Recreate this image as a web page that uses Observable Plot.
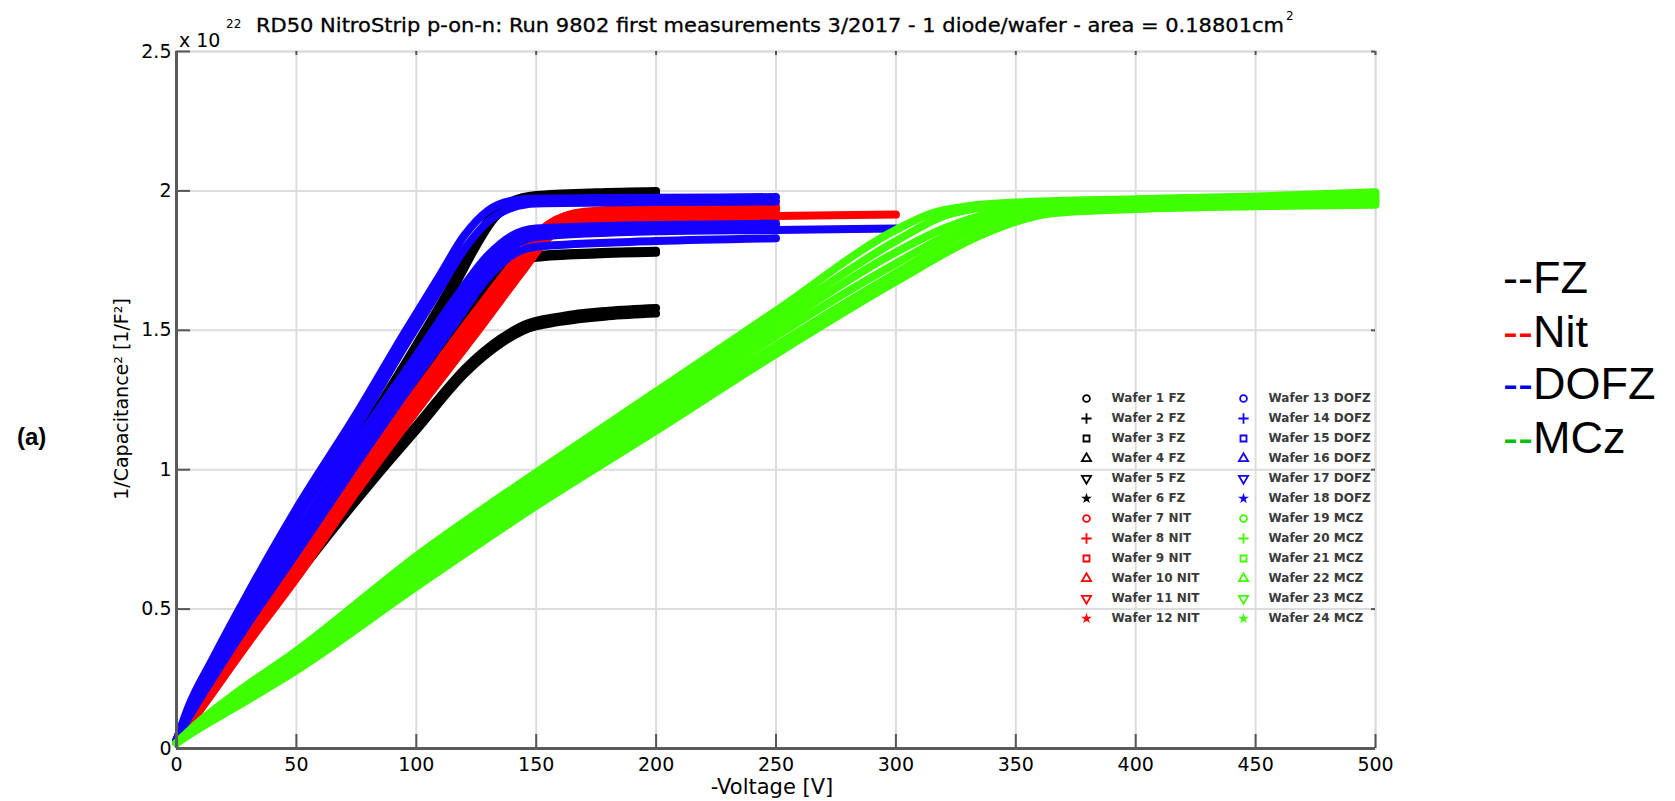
<!DOCTYPE html>
<html><head><meta charset="utf-8">
<script src="https://cdn.jsdelivr.net/npm/d3@7"></script>
<script src="https://cdn.jsdelivr.net/npm/@observablehq/plot@0.6"></script>
<style>
html,body{margin:0;padding:0;background:#fff;}
#wrap{position:relative;width:1675px;height:801px;overflow:hidden;}
#wrap > *{position:absolute;}
</style></head><body><div id="wrap"></div>
<script>
// ---------------- data (voltage [V], 1/C^2 [1e22 1/F^2]) ----------------
const groups = ["FZ", "NIT", "DOFZ", "MCZ"];
const groupColors = ["#000000", "#ff0000", "#1400ff", "#40ff00"];
const legendGroups = ["FZ", "Nit", "DOFZ", "MCz"];
const legendDashColors = ["#000000", "#ff0000", "#0000e6", "#00c000"];
const xTicks = [0, 50, 100, 150, 200, 250, 300, 350, 400, 450, 500];
const yTicks = [0, 0.5, 1, 1.5, 2, 2.5];
const yTickLabels = ["0", "0.5", "1", "1.5", "2", "2.5"];

const waferNames = ["Wafer 1 FZ","Wafer 2 FZ","Wafer 3 FZ","Wafer 4 FZ","Wafer 5 FZ","Wafer 6 FZ",
  "Wafer 7 NIT","Wafer 8 NIT","Wafer 9 NIT","Wafer 10 NIT","Wafer 11 NIT","Wafer 12 NIT",
  "Wafer 13 DOFZ","Wafer 14 DOFZ","Wafer 15 DOFZ","Wafer 16 DOFZ","Wafer 17 DOFZ","Wafer 18 DOFZ",
  "Wafer 19 MCZ","Wafer 20 MCZ","Wafer 21 MCZ","Wafer 22 MCZ","Wafer 23 MCZ","Wafer 24 MCZ"];
const waferGroups = ["FZ","FZ","FZ","FZ","FZ","FZ","NIT","NIT","NIT","NIT","NIT","NIT",
  "DOFZ","DOFZ","DOFZ","DOFZ","DOFZ","DOFZ","MCZ","MCZ","MCZ","MCZ","MCZ","MCZ"];

const wafer1 = [[0,0.02],[5,0.12],[15,0.27],[30,0.47],[50,0.74],[75,1.10],[100,1.45],[115,1.67],[125,1.83],[132,1.92],[140,1.965],[150,1.985],[175,1.995],[200,2.0]];
const wafer2 = [[0,0.02],[5,0.11],[15,0.26],[30,0.46],[50,0.72],[75,1.08],[100,1.42],[115,1.64],[125,1.80],[132,1.895],[140,1.95],[150,1.975],[175,1.985],[200,1.99]];
const wafer3 = [[0,0.02],[5,0.11],[15,0.25],[30,0.44],[50,0.68],[75,0.98],[100,1.30],[115,1.48],[125,1.60],[135,1.70],[143,1.755],[150,1.77],[175,1.78],[200,1.785]];
const wafer4 = [[0,0.02],[5,0.10],[15,0.24],[30,0.43],[50,0.67],[75,0.97],[100,1.28],[115,1.46],[125,1.58],[135,1.68],[143,1.745],[150,1.76],[175,1.772],[200,1.778]];
const wafer5 = [[0,0.02],[5,0.10],[15,0.23],[30,0.40],[46,0.59],[65,0.80],[83,0.99],[100,1.16],[121,1.37],[135,1.47],[145,1.52],[160,1.55],[180,1.57],[200,1.58]];
const wafer6 = [[0,0.02],[5,0.09],[15,0.22],[30,0.39],[46,0.57],[65,0.78],[83,0.97],[100,1.14],[121,1.35],[135,1.45],[145,1.50],[160,1.53],[180,1.55],[200,1.56]];
const wafer7 = [[0,0.02],[5,0.09],[15,0.22],[30,0.41],[50,0.65],[75,0.97],[100,1.26],[125,1.54],[145,1.76],[155,1.86],[165,1.90],[200,1.925],[250,1.935]];
const wafer8 = [[0,0.02],[5,0.09],[15,0.21],[30,0.40],[50,0.64],[75,0.95],[100,1.24],[125,1.52],[145,1.74],[155,1.84],[165,1.885],[200,1.905],[250,1.91],[300,1.915]];
const wafer9 = [[0,0.02],[5,0.08],[15,0.20],[30,0.38],[50,0.61],[75,0.92],[100,1.21],[125,1.49],[145,1.72],[155,1.83],[165,1.875],[200,1.895],[250,1.90]];
const wafer10 = [[0,0.02],[5,0.09],[15,0.22],[30,0.42],[50,0.66],[75,0.99],[100,1.28],[125,1.57],[145,1.79],[155,1.88],[170,1.925],[200,1.94],[250,1.945]];
const wafer11 = [[0,0.02],[5,0.085],[15,0.21],[30,0.39],[50,0.63],[75,0.94],[100,1.23],[125,1.51],[145,1.73],[155,1.845],[165,1.89],[200,1.915],[250,1.92]];
const wafer12 = [[0,0.02],[5,0.08],[15,0.20],[30,0.385],[50,0.62],[75,0.93],[100,1.22],[125,1.50],[145,1.75],[155,1.86],[168,1.905],[200,1.93],[250,1.935]];
const wafer13 = [[0,0.03],[5,0.15],[15,0.32],[30,0.56],[50,0.86],[75,1.20],[95,1.49],[110,1.70],[120,1.84],[130,1.93],[140,1.965],[150,1.972],[200,1.975],[250,1.978]];
const wafer14 = [[0,0.03],[5,0.14],[15,0.30],[30,0.53],[50,0.82],[75,1.15],[95,1.44],[110,1.65],[120,1.79],[130,1.89],[140,1.94],[150,1.955],[200,1.96],[250,1.962]];
const wafer15 = [[0,0.03],[5,0.13],[15,0.28],[30,0.50],[50,0.77],[75,1.10],[100,1.41],[115,1.60],[130,1.77],[140,1.84],[150,1.865],[200,1.878],[250,1.882]];
const wafer16 = [[0,0.03],[5,0.12],[15,0.26],[30,0.46],[50,0.72],[75,1.04],[100,1.35],[115,1.54],[130,1.72],[140,1.80],[150,1.835],[200,1.855],[250,1.86],[300,1.865]];
const wafer17 = [[0,0.03],[5,0.11],[15,0.25],[30,0.45],[50,0.70],[75,1.02],[100,1.33],[115,1.51],[130,1.69],[140,1.77],[150,1.80],[200,1.82],[250,1.83]];
const wafer18 = [[0,0.03],[5,0.12],[15,0.27],[30,0.48],[50,0.74],[75,1.07],[100,1.38],[115,1.57],[130,1.745],[140,1.815],[150,1.85],[200,1.865],[250,1.87]];
const wafer19 = [[0,0.02],[10,0.10],[25,0.20],[50,0.35],[100,0.69],[150,0.99],[200,1.28],[250,1.57],[300,1.86],[315,1.92],[330,1.945],[350,1.958],[400,1.97],[450,1.98],[500,1.995]];
const wafer20 = [[0,0.02],[10,0.095],[25,0.19],[50,0.34],[100,0.67],[150,0.965],[200,1.25],[250,1.54],[300,1.82],[320,1.91],[340,1.945],[360,1.955],[400,1.965],[450,1.975],[500,1.985]];
const wafer21 = [[0,0.02],[10,0.09],[25,0.18],[50,0.32],[100,0.645],[150,0.94],[200,1.22],[250,1.51],[300,1.78],[320,1.865],[335,1.91],[350,1.935],[375,1.945],[400,1.95],[450,1.96],[500,1.975]];
const wafer22 = [[0,0.02],[10,0.085],[25,0.17],[50,0.31],[100,0.625],[150,0.915],[200,1.19],[250,1.48],[300,1.74],[325,1.855],[340,1.90],[355,1.93],[380,1.94],[400,1.945],[450,1.955],[500,1.965]];
const wafer23 = [[0,0.02],[10,0.08],[25,0.16],[50,0.295],[100,0.60],[150,0.89],[200,1.165],[250,1.445],[300,1.705],[330,1.85],[345,1.90],[360,1.925],[400,1.94],[450,1.95],[500,1.96]];
const wafer24 = [[0,0.02],[10,0.075],[25,0.15],[50,0.28],[100,0.58],[150,0.87],[200,1.14],[250,1.415],[300,1.675],[335,1.84],[350,1.89],[365,1.92],[400,1.935],[450,1.945],[500,1.95]];

const waferCurves = [wafer1,wafer2,wafer3,wafer4,wafer5,wafer6,wafer7,wafer8,wafer9,wafer10,wafer11,wafer12,
  wafer13,wafer14,wafer15,wafer16,wafer17,wafer18,wafer19,wafer20,wafer21,wafer22,wafer23,wafer24];

// ---------------- build tables ----------------
const rows = [];
waferCurves.forEach((curve, i) => {
  curve.forEach(([v, c]) => rows.push({wafer: waferNames[i], group: waferGroups[i], v, c}));
});

const W = 1675, H = 801;
const mL = 176, mR = 300, mT = 51, mB = 53;
const innerW = W - mL - mR, innerH = H - mT - mB;
const font = "DejaVu Sans, sans-serif";

const main = Plot.plot({
  width: W, height: H,
  marginLeft: mL, marginRight: mR, marginTop: mT, marginBottom: mB,
  style: {fontFamily: font, fontSize: "19px", color: "#000", background: "transparent"},
  x: {domain: [0, 500], label: null},
  y: {domain: [0, 2.5], label: null},
  color: {domain: groups, range: groupColors},
  marks: [
    Plot.frame({stroke: "#dcdcdc", strokeWidth: 2}),
    Plot.ruleX(xTicks, {stroke: "#dcdcdc", strokeWidth: 2}),
    Plot.ruleY(yTicks, {stroke: "#dcdcdc", strokeWidth: 2}),
    Plot.ruleX(xTicks, {insetTop: innerH - 14, stroke: "#555", strokeWidth: 2}),
    Plot.ruleX(xTicks, {insetBottom: innerH - 4, stroke: "#555", strokeWidth: 2}),
    Plot.ruleY(yTicks, {insetRight: innerW - 14, stroke: "#555", strokeWidth: 2}),
    Plot.ruleY(yTicks, {insetLeft: innerW - 4, stroke: "#555", strokeWidth: 2}),
    Plot.line(rows, {x: "v", y: "c", z: "wafer", stroke: "group", strokeWidth: 8, curve: "monotone-x"}),
    Plot.ruleX([0], {stroke: "#5a5a5a", strokeWidth: 3}),
    Plot.ruleY([0], {stroke: "#5a5a5a", strokeWidth: 3}),
    Plot.axisX(xTicks, {tickSize: 0, tickPadding: 9, fontSize: 19, label: null}),
    Plot.axisY(yTicks, {tickSize: 0, tickPadding: 5, fontSize: 19, label: null,
      tickFormat: d => yTickLabels[yTicks.indexOf(d)]})
  ]
});
main.style.left = "0px"; main.style.top = "0px";
document.getElementById("wrap").appendChild(main);

// ---------------- inner wafer legend ----------------
const triangleDown = {draw(ctx, size) {
  const y = -Math.sqrt(size / (Math.sqrt(3) * 3));
  ctx.moveTo(0, -2 * y); ctx.lineTo(Math.sqrt(3) * y, y); ctx.lineTo(-Math.sqrt(3) * y, y); ctx.closePath();
}};
const legendSymbols = ["circle", "plus", "square", "triangle", triangleDown, "star"];
const legRows = waferNames.map((name, i) => ({label: name, group: waferGroups[i], col: i < 12 ? 0 : 1, row: i % 12, k: i % 6}));

const legend = Plot.plot({
  width: 330, height: 260,
  marginLeft: 20, marginRight: 153, marginTop: 20, marginBottom: 20,
  style: {fontFamily: font, background: "transparent"},
  x: {type: "point", domain: [0, 1], padding: 0, axis: null},
  y: {type: "point", domain: d3.range(12), padding: 0, axis: null},
  color: {domain: groups, range: groupColors},
  marks: [
    ...legendSymbols.map((s, k) => Plot.dot(legRows.filter(d => d.k === k), {
      x: "col", y: "row", symbol: s, r: 3.4,
      stroke: k === 5 ? null : "group", fill: k === 5 ? "group" : "none", strokeWidth: 1.8
    })),
    Plot.text(legRows, {x: "col", y: "row", text: "label", dx: 25, textAnchor: "start",
      fontSize: 12, fontWeight: "bold", fill: "#3a3a3a"})
  ]
});
legend.style.left = "1066px"; legend.style.top = "378px";
document.getElementById("wrap").appendChild(legend);

// ---------------- surrounding texts ----------------
const ov = d3.create("svg").attr("width", W).attr("height", H)
  .style("left", "0px").style("top", "0px").style("pointer-events", "none");
ov.append("text").attr("x", 179).attr("y", 47).attr("font-family", font).attr("font-size", 19).text("x 10");
ov.append("text").attr("x", 226).attr("y", 28).attr("font-family", font).attr("font-size", 12).text("22");
ov.append("text").attr("x", 256).attr("y", 32).attr("font-family", font).attr("font-size", 19)
  .attr("textLength", 1028).attr("lengthAdjust", "spacingAndGlyphs")
  .attr("stroke", "#000").attr("stroke-width", 0.3)
  .text("RD50 NitroStrip p-on-n: Run 9802 first measurements 3/2017 - 1 diode/wafer - area = 0.18801cm");
ov.append("text").attr("x", 1286).attr("y", 20).attr("font-family", font).attr("font-size", 12).text("2");
ov.append("text").attr("transform", "translate(121,399) rotate(-90)").attr("text-anchor", "middle")
  .attr("dominant-baseline", "central").attr("font-family", font).attr("font-size", 19)
  .text("1/Capacitance² [1/F²]");
ov.append("text").attr("x", 772).attr("y", 794).attr("text-anchor", "middle")
  .attr("font-family", font).attr("font-size", 21).text("-Voltage [V]");
ov.append("text").attr("x", 17).attr("y", 445).attr("font-family", "Liberation Sans, Arial, sans-serif")
  .attr("font-weight", "bold").attr("font-size", 24).text("(a)");
const legBase = [293, 347, 399, 453];
legendGroups.forEach((g, i) => {
  const t = ov.append("text").attr("x", 1503).attr("y", legBase[i])
    .attr("font-family", "Liberation Sans, Arial, sans-serif").attr("font-size", 45);
  t.append("tspan").attr("fill", legendDashColors[i]).text("--");
  t.append("tspan").attr("fill", "#000").text(g);
});
document.getElementById("wrap").appendChild(ov.node());
</script></body></html>
